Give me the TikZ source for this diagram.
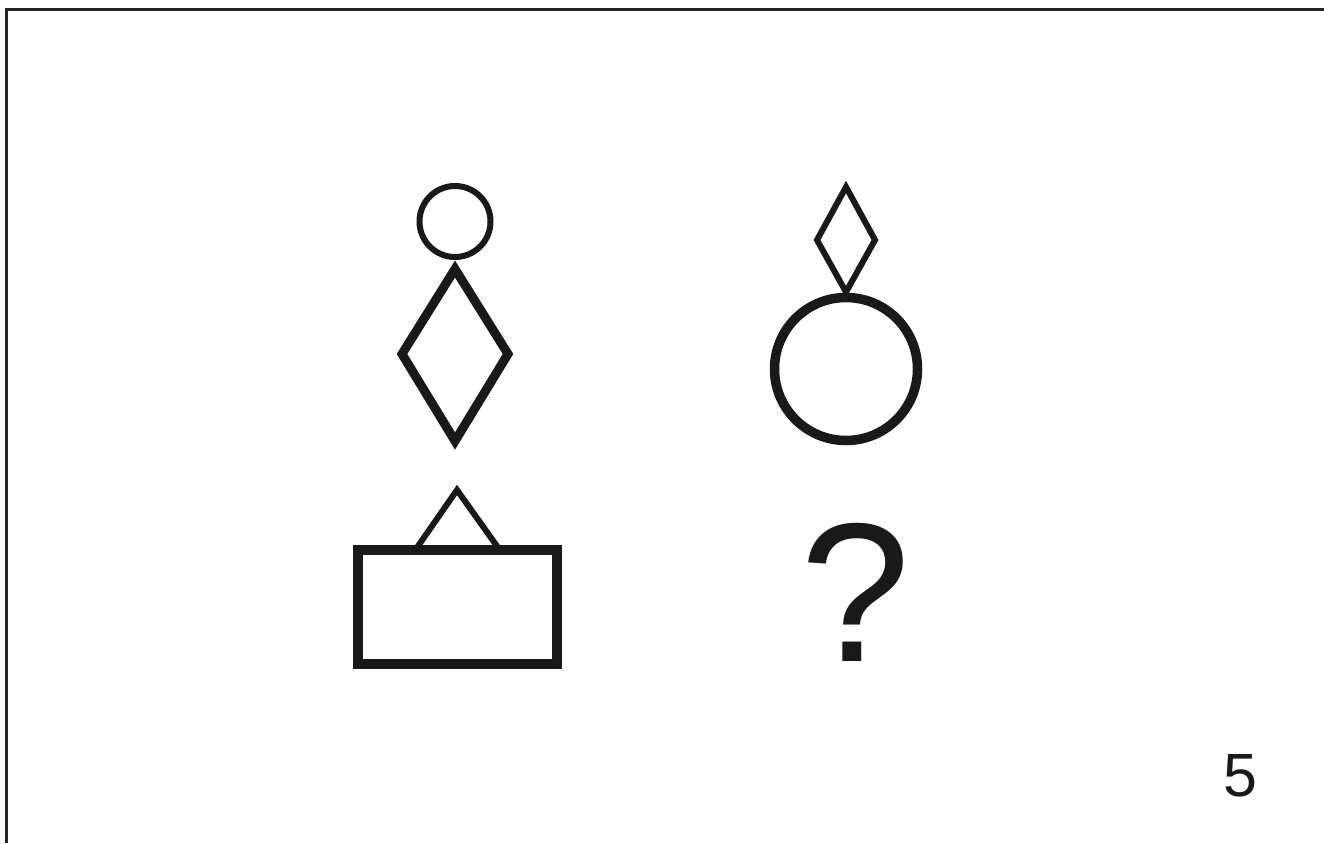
\documentclass[tikz,border=0pt]{standalone}
\usepackage{fontspec}
\setmainfont{Liberation Sans}
\tikzset{
  frameline/.style={draw=black!85, line width=3pt},
  shapeline/.style={draw=black!90, line join=miter},
}
\begin{document}
\begin{tikzpicture}[x=1pt,y=-1pt]
\useasboundingbox (0,0) rectangle (1324,843);
\fill[white] (0,0) rectangle (1324,843);
% frame
\draw[frameline] (1324,10) -- (6,10) -- (6,843);
% left top: small circle + big diamond
\draw[shapeline, line width=6pt] (455,221.5) circle (35.5);
\draw[shapeline, line width=9pt] (455,269) -- (508,354) -- (455,441) -- (402,354) -- cycle;
% right top: small diamond + big circle
\draw[shapeline, line width=6pt] (846,187) -- (875,240) -- (846,292) -- (817,240) -- cycle;
\draw[shapeline, line width=9.5pt] (846,369) circle (71.5);
% bottom left: triangle + rectangle
\draw[shapeline, line width=6pt] (416,549) -- (457,490) -- (499,549);
\draw[shapeline, line width=10pt] (358,550) rectangle (557,664);
% question mark
\node[text=black!90, inner sep=0pt, anchor=base] (q) at (856,661) {\fontsize{198}{200}\selectfont ?};
% page number
\node[text=black!90, inner sep=0pt, anchor=base] (num) at (1240,796) {\fontsize{61}{64}\selectfont 5};
\end{tikzpicture}
\end{document}
